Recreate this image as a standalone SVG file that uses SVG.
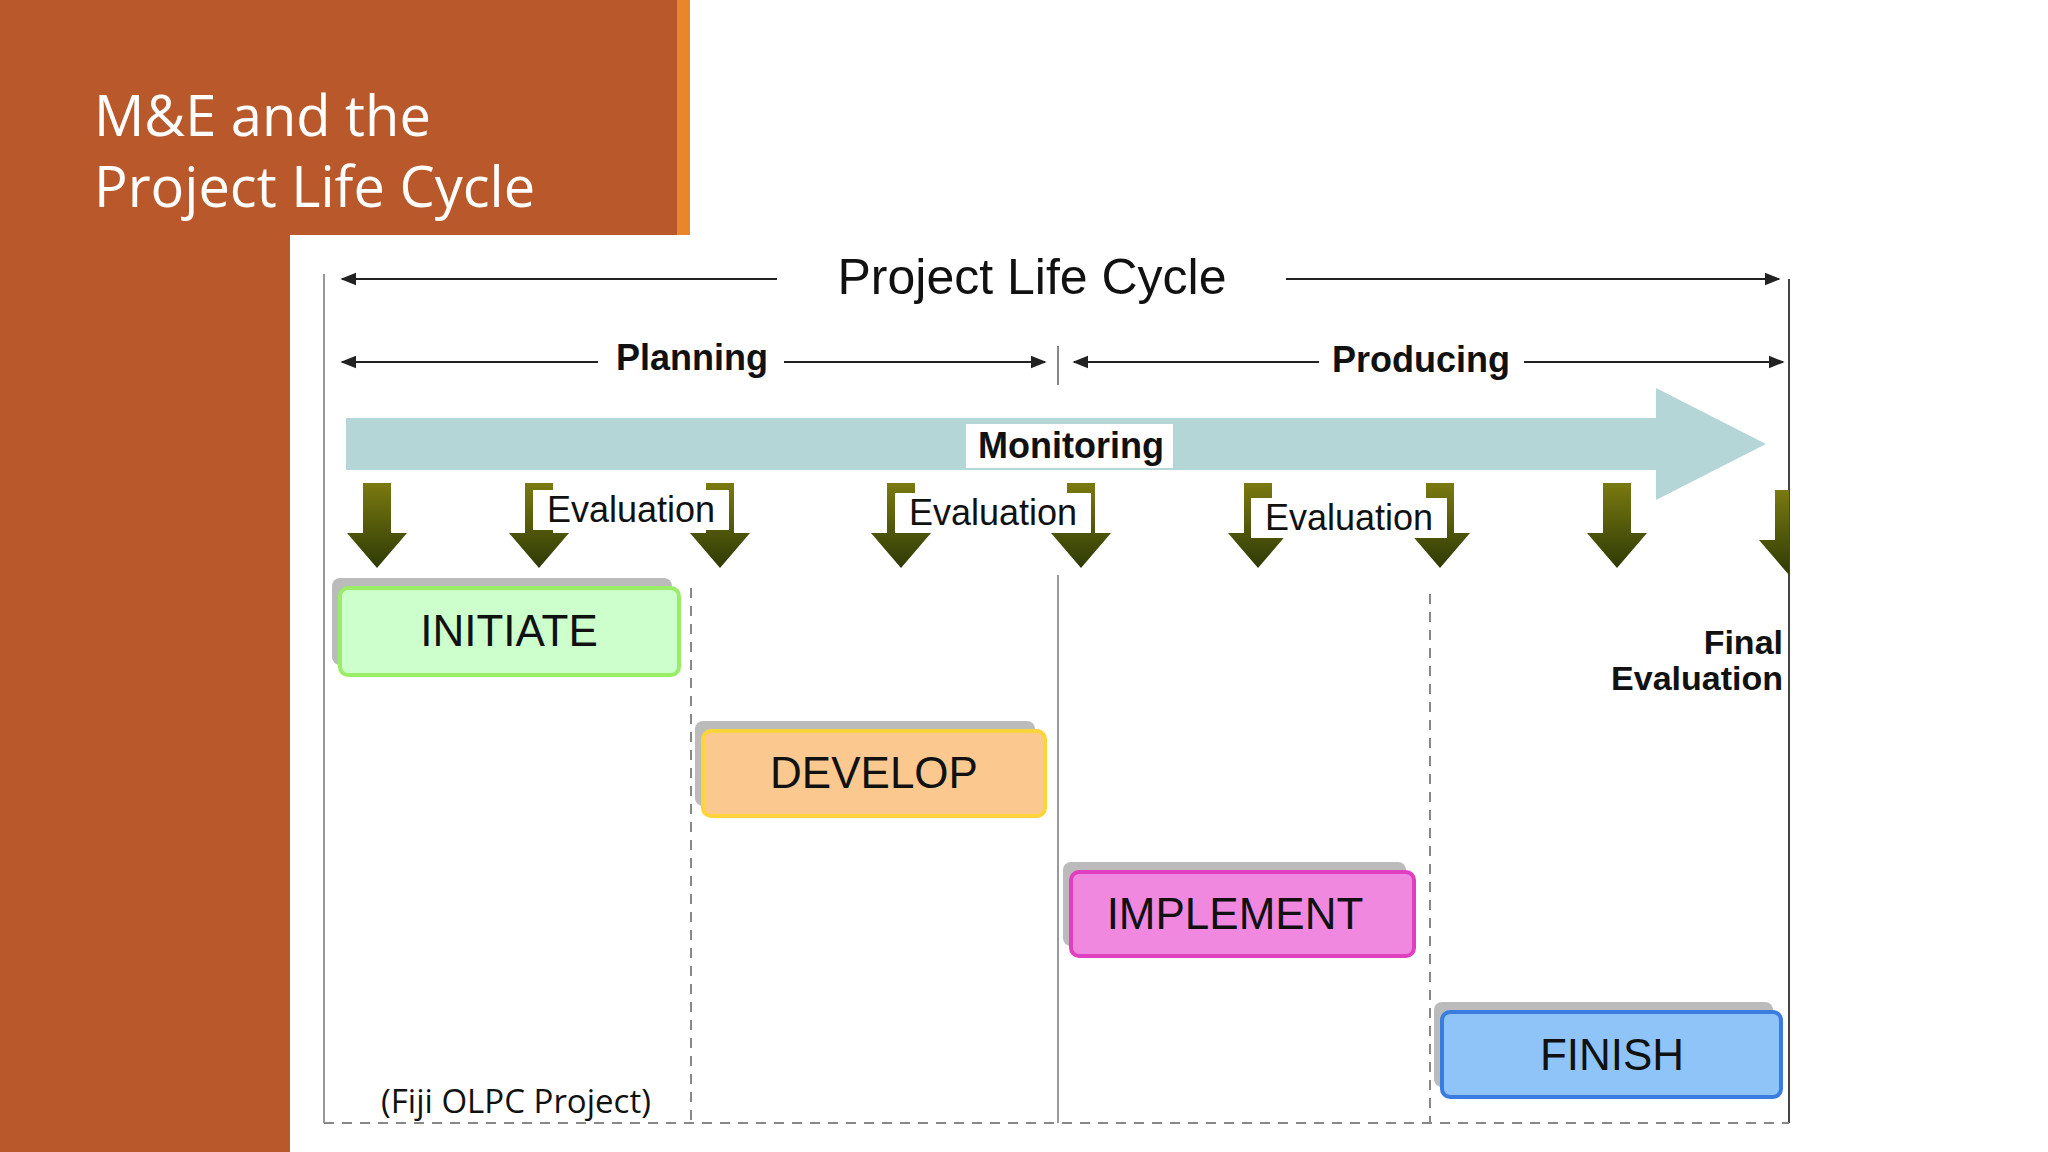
<svg xmlns="http://www.w3.org/2000/svg" width="2048" height="1152" viewBox="0 0 2048 1152">
<defs>
<style>
.t{font-family:"Liberation Sans",Arial,sans-serif;fill:#111}
.b{font-weight:bold}
.ln{stroke:#222;stroke-width:2;fill:none}
.dl{stroke:#888;stroke-width:2;stroke-dasharray:10 8;fill:none}
</style>
<marker id="ah" viewBox="0 0 10 10" refX="9" refY="5" markerWidth="8" markerHeight="8" orient="auto-start-reverse"><path d="M0,1 L10,5 L0,9 z" fill="#222"/></marker>
<linearGradient id="ga" x1="0" y1="0" x2="0" y2="1"><stop offset="0" stop-color="#7a7a10"/><stop offset="1" stop-color="#2e3a05"/></linearGradient>
<path id="garr" d="M-14,0 H14 V50 H30 L0,85 L-30,50 H-14 Z" fill="url(#ga)"/>
<clipPath id="cr"><rect x="1700" y="470" width="89" height="120"/></clipPath>
</defs>
<rect width="2048" height="1152" fill="#fff"/>
<g id="panel">
<rect x="0" y="0" width="690" height="235" fill="#B8582B"/>
<rect x="0" y="0" width="290" height="1152" fill="#B8582B"/>
<rect x="677" y="0" width="13" height="235" fill="#E8862A"/>
<text x="94" y="136" font-family="'Open Sans','Liberation Sans',sans-serif" font-size="56" fill="#fff">M&amp;E and the</text>
<text x="94" y="207" font-family="'Open Sans','Liberation Sans',sans-serif" font-size="56" fill="#fff">Project Life Cycle</text>
</g>
<g id="connectors">
<line class="ln" x1="342" y1="279" x2="777" y2="279" marker-start="url(#ah)"/>
<line class="ln" x1="1286" y1="279" x2="1779" y2="279" marker-end="url(#ah)"/>
<line class="ln" x1="342" y1="362" x2="598" y2="362" marker-start="url(#ah)" stroke-width="3"/>
<line class="ln" x1="784" y1="362" x2="1045" y2="362" marker-end="url(#ah)" stroke-width="3"/>
<line class="ln" x1="1074" y1="362" x2="1319" y2="362" marker-start="url(#ah)" stroke-width="3"/>
<line class="ln" x1="1524" y1="362" x2="1783" y2="362" marker-end="url(#ah)" stroke-width="3"/>
<line x1="1058" y1="346" x2="1058" y2="385" stroke="#888" stroke-width="2"/>
<line x1="324" y1="274" x2="324" y2="1123" stroke="#999" stroke-width="2"/>
<line x1="1789" y1="279" x2="1789" y2="1123" stroke="#444" stroke-width="2"/>
<line class="dl" x1="324" y1="1123" x2="1789" y2="1123"/>
<line class="dl" x1="691" y1="588" x2="691" y2="1123"/>
<line class="dl" x1="1430" y1="594" x2="1430" y2="1123"/>
<line x1="1058" y1="575" x2="1058" y2="1123" stroke="#999" stroke-width="2"/>
<path d="M346,418 H1656 V388 L1766,444 L1656,500 V470 H346 Z" fill="#B5D6D6"/>
<use href="#garr" x="377" y="483"/><use href="#garr" x="539" y="483"/><use href="#garr" x="720" y="483"/>
<use href="#garr" x="901" y="483"/><use href="#garr" x="1081" y="483"/><use href="#garr" x="1258" y="483"/>
<use href="#garr" x="1440" y="483"/><use href="#garr" x="1617" y="483"/>
<g clip-path="url(#cr)"><use href="#garr" x="1789" y="490"/></g>
</g>
<g id="labels">
<text class="t" x="1032" y="294" font-size="50" text-anchor="middle" fill="#333">Project Life Cycle</text>
<text class="t b" x="692" y="370" font-size="36" text-anchor="middle">Planning</text>
<text class="t b" x="1421" y="372" font-size="36" text-anchor="middle">Producing</text>
<rect x="966" y="424" width="207" height="44" fill="#fff"/>
<text class="t b" x="1071" y="458" font-size="36" text-anchor="middle">Monitoring</text>
<rect x="533" y="490" width="196" height="40" fill="#fff"/>
<text class="t" x="631" y="522" font-size="36" text-anchor="middle">Evaluation</text>
<rect x="895" y="493" width="196" height="40" fill="#fff"/>
<text class="t" x="993" y="525" font-size="36" text-anchor="middle">Evaluation</text>
<rect x="1251" y="498" width="196" height="40" fill="#fff"/>
<text class="t" x="1349" y="530" font-size="36" text-anchor="middle">Evaluation</text>
<text class="t b" x="1783" y="654" font-size="34" text-anchor="end">Final</text>
<text class="t b" x="1783" y="690" font-size="34" text-anchor="end">Evaluation</text>
<text x="516" y="1113" font-family="'Open Sans','Liberation Sans',sans-serif" font-size="33" text-anchor="middle" fill="#111">(Fiji OLPC Project)</text>
</g>
<g id="initiate"><rect x="332" y="578" width="340" height="87" rx="8" fill="#bbb"/><rect x="340" y="588" width="339" height="87" rx="8" fill="#CCFFCC" stroke="#99EE66" stroke-width="4"/><text class="t" x="509" y="646" font-size="44" text-anchor="middle">INITIATE</text></g>
<g id="develop"><rect x="695" y="721" width="340" height="85" rx="8" fill="#bbb"/><rect x="703" y="731" width="342" height="85" rx="8" fill="#FBC98F" stroke="#FFD43A" stroke-width="4"/><text class="t" x="874" y="788" font-size="44" text-anchor="middle">DEVELOP</text></g>
<g id="implement"><rect x="1063" y="862" width="343" height="84" rx="8" fill="#bbb"/><rect x="1071" y="872" width="343" height="84" rx="8" fill="#F088E0" stroke="#E040C0" stroke-width="4"/><text class="t" x="1235" y="929" font-size="44" text-anchor="middle">IMPLEMENT</text></g>
<g id="finish"><rect x="1434" y="1002" width="339" height="85" rx="8" fill="#bbb"/><rect x="1442" y="1012" width="339" height="85" rx="8" fill="#8EC4F8" stroke="#3A7CE0" stroke-width="4"/><text class="t" x="1612" y="1070" font-size="44" text-anchor="middle">FINISH</text></g>
</svg>
